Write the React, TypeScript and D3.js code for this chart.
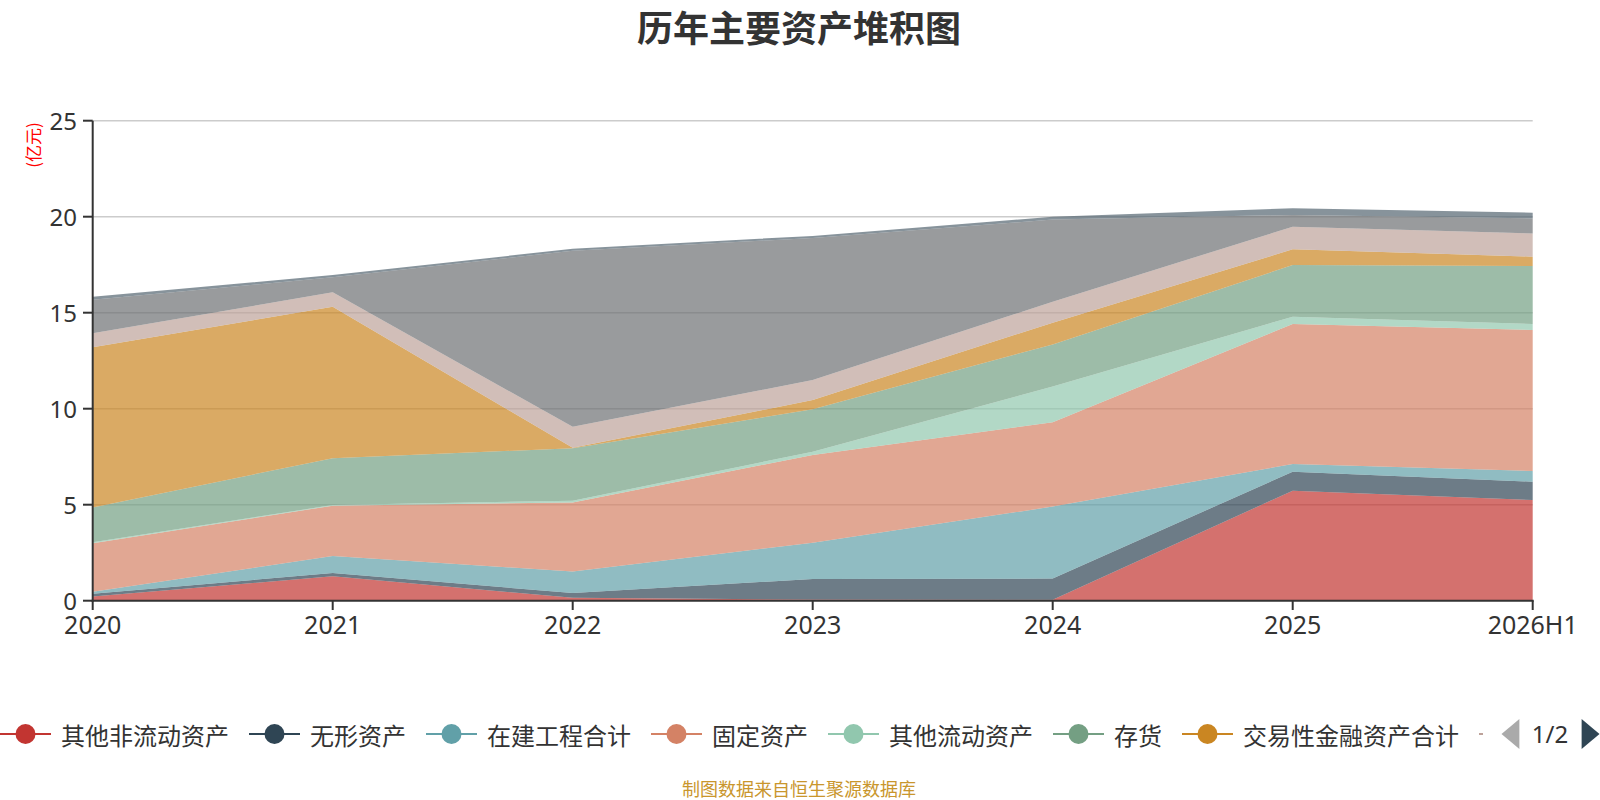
import React from 'react';
import * as d3 from 'd3';

const years = ['2020', '2021', '2022', '2023', '2024', '2025', '2026H1'];
const seriesNames = [
  '其他非流动资产', '无形资产', '在建工程合计', '固定资产', '其他流动资产',
  '存货', '交易性金融资产合计', '应收账款', '货币资金', '预付款项',
];
const seriesColors = [
  '#c23531', '#2f4554', '#61a0a8', '#d48265', '#91c7ae',
  '#749f83', '#ca8622', '#bda29a', '#6e7074', '#546570',
];
const otherNonCurrent = [0.22, 1.27, 0.15, 0.06, 0.05, 5.73, 5.24];
const intangible = [0.14, 0.17, 0.25, 1.07, 1.10, 0.99, 0.96];
const construction = [0.11, 0.89, 1.12, 1.89, 3.75, 0.40, 0.56];
const fixedAssets = [2.52, 2.62, 3.60, 4.57, 4.39, 7.29, 7.34];
const otherCurrent = [0.05, 0.03, 0.09, 0.17, 1.86, 0.38, 0.31];
const inventory = [1.82, 2.44, 2.73, 2.21, 2.20, 2.69, 3.02];
const tradingFinancial = [8.34, 7.89, 0.02, 0.48, 1.13, 0.82, 0.49];
const receivables = [0.73, 0.75, 1.10, 1.04, 1.09, 1.18, 1.21];
const cash = [1.75, 0.78, 9.17, 7.40, 4.28, 0.61, 0.78];
const prepayments = [0.15, 0.12, 0.10, 0.11, 0.15, 0.35, 0.30];
const yTicks = [0, 5, 10, 15, 20, 25];

const seriesValues = [
  otherNonCurrent, intangible, construction, fixedAssets, otherCurrent,
  inventory, tradingFinancial, receivables, cash, prepayments,
];

const FONT = '"Noto Sans", "Noto Sans CJK SC", sans-serif';
const CJK = '"Noto Sans CJK SC", "Noto Sans", sans-serif';

export default function App() {
  const W = 1600, H = 800;
  const x = d3.scalePoint<string>().domain(years).range([92.7, 1532.7]);
  const y = d3.scaleLinear().domain([0, 25]).range([600.7, 120.7]);

  const table = years.map((yr, i) => {
    const row: any = { year: yr };
    seriesNames.forEach((n, k) => { row[n] = seriesValues[k][i]; });
    return row;
  });
  const stacked = d3.stack<any>().keys(seriesNames)(table);
  const area = d3.area<any>()
    .x((d) => x(d.data.year) as number)
    .y0((d) => y(d[0]))
    .y1((d) => y(d[1]));

  // legend layout
  const legendY = 734;
  let cursor = 0;
  const legendItems = seriesNames.slice(0, 7).map((n, i) => {
    const item = { name: n, color: seriesColors[i], x: cursor };
    cursor += 51 + 10 + n.length * 24 + 20;
    return item;
  });
  const nextStart = cursor;

  return (
    <div style={{ position: 'absolute', left: 0, top: 0 }}>
      <svg width={W} height={H} style={{ display: 'block', background: '#fff' }}>
        <text x={799} y={26} textAnchor="middle" dominantBaseline="central"
          fontFamily={CJK} fontWeight="bold" fontSize={36} fill="#333">历年主要资产堆积图</text>

        {/* gridlines */}
        {yTicks.filter((t) => t > 0).map((t) => (
          <line key={t} x1={92.7} x2={1532.7} y1={y(t)} y2={y(t)} stroke="#cccccc" strokeWidth={1.5} />
        ))}

        {/* areas */}
        {stacked.map((s, i) => (
          <path key={s.key} d={area(s) as string} fill={seriesColors[i]} fillOpacity={0.7} stroke="none" />
        ))}

        {/* y axis */}
        <line x1={92.7} x2={92.7} y1={120.7} y2={601.7} stroke="#333" strokeWidth={2} />
        {yTicks.map((t) => (
          <g key={t}>
            <line x1={83} x2={92.7} y1={y(t)} y2={y(t)} stroke="#333" strokeWidth={2} />
            <text x={77} y={y(t)} textAnchor="end" dominantBaseline="central"
              fontFamily={FONT} fontSize={24} fill="#333">{t}</text>
          </g>
        ))}
        <text transform={`translate(32,145) rotate(-90)`} textAnchor="middle" dominantBaseline="central"
          fontFamily={CJK} fontSize={17} fill="#ff0000">(亿元)</text>

        {/* x axis */}
        <line x1={91.7} x2={1533.7} y1={600.7} y2={600.7} stroke="#333" strokeWidth={2} />
        {years.map((yr) => (
          <g key={yr}>
            <line x1={x(yr)} x2={x(yr)} y1={600.7} y2={610} stroke="#333" strokeWidth={2} />
            <text x={x(yr)} y={624} textAnchor="middle" dominantBaseline="central"
              fontFamily={FONT} fontSize={25} fill="#333">{yr}</text>
          </g>
        ))}

        {/* legend */}
        {legendItems.map((it) => (
          <g key={it.name}>
            <line x1={it.x} x2={it.x + 51} y1={legendY} y2={legendY} stroke={it.color} strokeWidth={2} />
            <circle cx={it.x + 25.5} cy={legendY} r={10} fill={it.color} />
            <text x={it.x + 61} y={legendY} dominantBaseline="central"
              fontFamily={CJK} fontSize={24} fill="#333">{it.name}</text>
          </g>
        ))}
        <line x1={nextStart} x2={nextStart + 4} y1={legendY} y2={legendY} stroke={seriesColors[7]} strokeWidth={2} />
        <path d={`M1519.4,719 L1501.5,734 L1519.4,749 Z`} fill="#aaaaaa" />
        <text x={1550} y={733} textAnchor="middle" dominantBaseline="central"
          fontFamily={FONT} fontSize={24} fill="#333">1/2</text>
        <path d={`M1581.6,719 L1599.5,734 L1581.6,749 Z`} fill="#2f4554" />

        <text x={799} y={788} textAnchor="middle" dominantBaseline="central"
          fontFamily={CJK} fontSize={18} fill="#c9962d">制图数据来自恒生聚源数据库</text>
      </svg>
    </div>
  );
}
